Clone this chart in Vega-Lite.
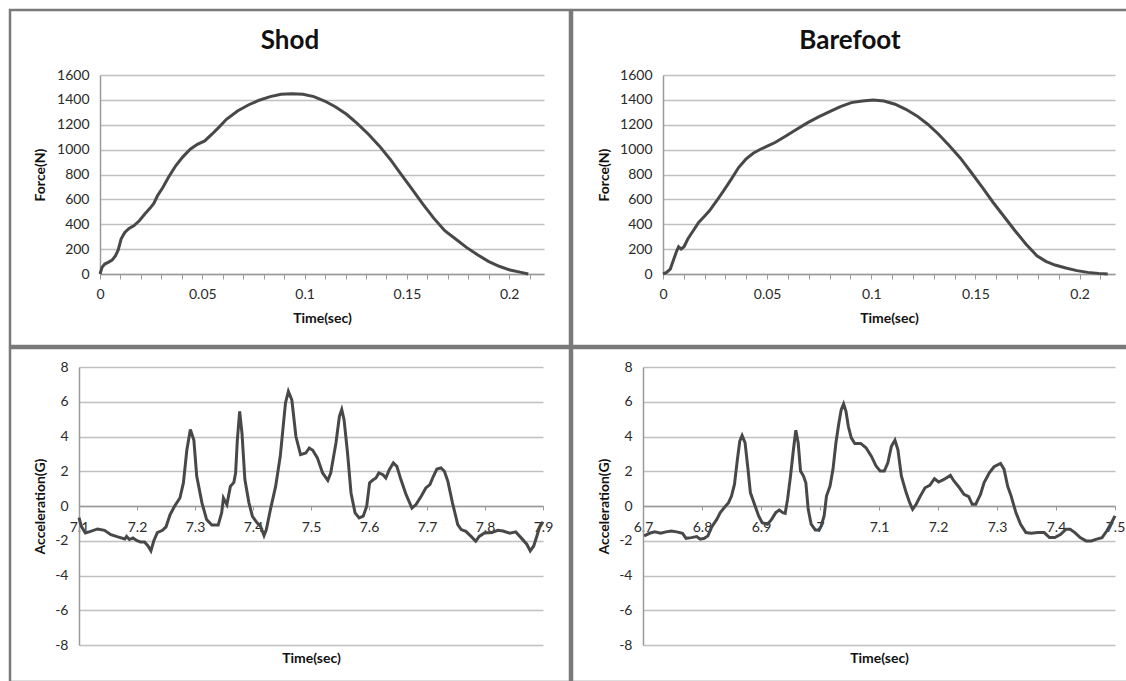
{
  "$schema": "https://vega.github.io/schema/vega-lite/v6.json",
  "background": "white",
  "padding": {"left": 8, "top": 8, "right": 0, "bottom": 0},
  "spacing": -5,
  "config": {
    "font": "Lato",
    "axis": {"labelFont": "Lato", "titleFont": "Lato", "labelColor": "#2a2a2a", "titleColor": "#111111", "labelFontSize": 14, "titleFontSize": 14, "titleFontWeight": "bold", "domainColor": "#9a9a9a", "domainWidth": 1.5, "tickColor": "#9a9a9a", "gridColor": "#c0c0c0", "gridWidth": 1.5},
    "title": {"font": "Lato", "fontSize": 26, "fontWeight": "bold", "color": "#111111"}
  },
  "datasets": {
    "shod_force": [
      {"time": 0, "force": 0}, {"time": 0.001, "force": 53}, {"time": 0.0023, "force": 80}, {"time": 0.004, "force": 94},
      {"time": 0.0059, "force": 112}, {"time": 0.0076, "force": 147}, {"time": 0.0089, "force": 193}, {"time": 0.0103, "force": 281},
      {"time": 0.0121, "force": 334}, {"time": 0.0142, "force": 367}, {"time": 0.0165, "force": 388}, {"time": 0.0192, "force": 428},
      {"time": 0.0219, "force": 482}, {"time": 0.0245, "force": 530}, {"time": 0.0263, "force": 567}, {"time": 0.0281, "force": 629},
      {"time": 0.0307, "force": 696}, {"time": 0.0334, "force": 776}, {"time": 0.037, "force": 870}, {"time": 0.0405, "force": 942},
      {"time": 0.0441, "force": 1003}, {"time": 0.0476, "force": 1043}, {"time": 0.0512, "force": 1070}, {"time": 0.0547, "force": 1124},
      {"time": 0.0583, "force": 1183}, {"time": 0.0618, "force": 1244}, {"time": 0.0672, "force": 1311}, {"time": 0.0725, "force": 1359},
      {"time": 0.0778, "force": 1397}, {"time": 0.0832, "force": 1426}, {"time": 0.0885, "force": 1445}, {"time": 0.0938, "force": 1450},
      {"time": 0.0992, "force": 1445}, {"time": 0.1045, "force": 1426}, {"time": 0.1098, "force": 1391}, {"time": 0.1152, "force": 1343},
      {"time": 0.1205, "force": 1284}, {"time": 0.1258, "force": 1209}, {"time": 0.1312, "force": 1124}, {"time": 0.1365, "force": 1030},
      {"time": 0.1418, "force": 923}, {"time": 0.1471, "force": 803}, {"time": 0.1525, "force": 682}, {"time": 0.1578, "force": 562},
      {"time": 0.1631, "force": 449}, {"time": 0.1685, "force": 348}, {"time": 0.1738, "force": 281}, {"time": 0.1791, "force": 214},
      {"time": 0.1845, "force": 155}, {"time": 0.1898, "force": 102}, {"time": 0.1951, "force": 62}, {"time": 0.2004, "force": 32},
      {"time": 0.2058, "force": 13}, {"time": 0.2093, "force": 0}
    ],
    "bare_force": [
      {"time": 0, "force": 0}, {"time": 0.0017, "force": 13}, {"time": 0.0035, "force": 40}, {"time": 0.0052, "force": 120},
      {"time": 0.0066, "force": 187}, {"time": 0.0075, "force": 219}, {"time": 0.0087, "force": 201}, {"time": 0.0101, "force": 219},
      {"time": 0.0119, "force": 281}, {"time": 0.0145, "force": 348}, {"time": 0.0171, "force": 415}, {"time": 0.0197, "force": 460},
      {"time": 0.0223, "force": 508}, {"time": 0.0258, "force": 589}, {"time": 0.0293, "force": 674}, {"time": 0.0328, "force": 763},
      {"time": 0.0363, "force": 856}, {"time": 0.0398, "force": 923}, {"time": 0.0433, "force": 971}, {"time": 0.0468, "force": 1003},
      {"time": 0.0503, "force": 1030}, {"time": 0.0538, "force": 1057}, {"time": 0.059, "force": 1110}, {"time": 0.0642, "force": 1164},
      {"time": 0.0695, "force": 1217}, {"time": 0.0747, "force": 1263}, {"time": 0.08, "force": 1306}, {"time": 0.0852, "force": 1346},
      {"time": 0.0904, "force": 1378}, {"time": 0.0957, "force": 1391}, {"time": 0.1009, "force": 1399}, {"time": 0.1061, "force": 1391},
      {"time": 0.1114, "force": 1365}, {"time": 0.1166, "force": 1324}, {"time": 0.1219, "force": 1271}, {"time": 0.1271, "force": 1204},
      {"time": 0.1323, "force": 1124}, {"time": 0.1376, "force": 1030}, {"time": 0.1428, "force": 931}, {"time": 0.148, "force": 816},
      {"time": 0.1533, "force": 696}, {"time": 0.1585, "force": 575}, {"time": 0.1638, "force": 460}, {"time": 0.169, "force": 348},
      {"time": 0.1742, "force": 241}, {"time": 0.1795, "force": 147}, {"time": 0.1838, "force": 102}, {"time": 0.1882, "force": 72},
      {"time": 0.1934, "force": 48}, {"time": 0.1987, "force": 27}, {"time": 0.2039, "force": 13}, {"time": 0.2091, "force": 5},
      {"time": 0.2135, "force": 0}
    ],
    "shod_acc": [
      {"time": 7.1, "accel": -0.67}, {"time": 7.104, "accel": -1.17}, {"time": 7.111, "accel": -1.55}, {"time": 7.12, "accel": -1.46},
      {"time": 7.132, "accel": -1.32}, {"time": 7.144, "accel": -1.4}, {"time": 7.155, "accel": -1.65}, {"time": 7.167, "accel": -1.78},
      {"time": 7.179, "accel": -1.9}, {"time": 7.182, "accel": -1.75}, {"time": 7.187, "accel": -1.93}, {"time": 7.193, "accel": -1.84},
      {"time": 7.2, "accel": -2.0}, {"time": 7.206, "accel": -2.07}, {"time": 7.213, "accel": -2.07}, {"time": 7.219, "accel": -2.3},
      {"time": 7.224, "accel": -2.58}, {"time": 7.229, "accel": -2.0}, {"time": 7.235, "accel": -1.53}, {"time": 7.244, "accel": -1.4},
      {"time": 7.25, "accel": -1.2}, {"time": 7.257, "accel": -0.5}, {"time": 7.265, "accel": 0.0}, {"time": 7.274, "accel": 0.46},
      {"time": 7.28, "accel": 1.33}, {"time": 7.286, "accel": 3.24}, {"time": 7.292, "accel": 4.4}, {"time": 7.298, "accel": 3.8},
      {"time": 7.303, "accel": 1.71}, {"time": 7.312, "accel": 0.18}, {"time": 7.32, "accel": -0.78}, {"time": 7.329, "accel": -1.1},
      {"time": 7.34, "accel": -1.1}, {"time": 7.346, "accel": -0.39}, {"time": 7.349, "accel": 0.46}, {"time": 7.355, "accel": 0.08},
      {"time": 7.361, "accel": 1.13}, {"time": 7.367, "accel": 1.36}, {"time": 7.37, "accel": 1.9}, {"time": 7.373, "accel": 3.8},
      {"time": 7.377, "accel": 5.45}, {"time": 7.381, "accel": 4.2}, {"time": 7.386, "accel": 1.52}, {"time": 7.393, "accel": 0.18},
      {"time": 7.399, "accel": -0.59}, {"time": 7.407, "accel": -0.97}, {"time": 7.413, "accel": -1.17}, {"time": 7.419, "accel": -1.7},
      {"time": 7.423, "accel": -1.36}, {"time": 7.43, "accel": -0.21}, {"time": 7.439, "accel": 1.13}, {"time": 7.447, "accel": 2.86},
      {"time": 7.456, "accel": 5.93}, {"time": 7.461, "accel": 6.6}, {"time": 7.467, "accel": 6.1}, {"time": 7.474, "accel": 4.0},
      {"time": 7.482, "accel": 2.96}, {"time": 7.491, "accel": 3.05}, {"time": 7.497, "accel": 3.34}, {"time": 7.503, "accel": 3.21},
      {"time": 7.511, "accel": 2.77}, {"time": 7.52, "accel": 1.9}, {"time": 7.529, "accel": 1.48}, {"time": 7.534, "accel": 1.9},
      {"time": 7.543, "accel": 3.63}, {"time": 7.549, "accel": 5.16}, {"time": 7.553, "accel": 5.55}, {"time": 7.557, "accel": 4.97},
      {"time": 7.563, "accel": 3.05}, {"time": 7.569, "accel": 0.75}, {"time": 7.576, "accel": -0.4}, {"time": 7.583, "accel": -0.69},
      {"time": 7.59, "accel": -0.59}, {"time": 7.596, "accel": -0.02}, {"time": 7.601, "accel": 1.33}, {"time": 7.606, "accel": 1.48},
      {"time": 7.612, "accel": 1.61}, {"time": 7.617, "accel": 1.9}, {"time": 7.624, "accel": 1.8}, {"time": 7.629, "accel": 1.61},
      {"time": 7.635, "accel": 2.09}, {"time": 7.642, "accel": 2.48}, {"time": 7.648, "accel": 2.28}, {"time": 7.655, "accel": 1.52},
      {"time": 7.664, "accel": 0.65}, {"time": 7.674, "accel": -0.12}, {"time": 7.681, "accel": 0.08}, {"time": 7.69, "accel": 0.56},
      {"time": 7.698, "accel": 1.04}, {"time": 7.705, "accel": 1.23}, {"time": 7.711, "accel": 1.71}, {"time": 7.717, "accel": 2.13},
      {"time": 7.724, "accel": 2.19}, {"time": 7.73, "accel": 2.0}, {"time": 7.736, "accel": 1.42}, {"time": 7.744, "accel": 0.17},
      {"time": 7.753, "accel": -1.07}, {"time": 7.759, "accel": -1.36}, {"time": 7.767, "accel": -1.46}, {"time": 7.776, "accel": -1.75},
      {"time": 7.784, "accel": -2.03}, {"time": 7.79, "accel": -1.75}, {"time": 7.799, "accel": -1.55}, {"time": 7.812, "accel": -1.53},
      {"time": 7.822, "accel": -1.4}, {"time": 7.831, "accel": -1.44}, {"time": 7.843, "accel": -1.57}, {"time": 7.853, "accel": -1.49},
      {"time": 7.862, "accel": -1.82}, {"time": 7.872, "accel": -2.2}, {"time": 7.878, "accel": -2.58}, {"time": 7.884, "accel": -2.3},
      {"time": 7.894, "accel": -1.24}, {"time": 7.9, "accel": -0.9}
    ],
    "bare_acc": [
      {"time": 6.702, "accel": -1.72}, {"time": 6.711, "accel": -1.57}, {"time": 6.72, "accel": -1.49}, {"time": 6.73, "accel": -1.57},
      {"time": 6.739, "accel": -1.49}, {"time": 6.748, "accel": -1.44}, {"time": 6.757, "accel": -1.49}, {"time": 6.767, "accel": -1.57},
      {"time": 6.773, "accel": -1.86}, {"time": 6.782, "accel": -1.82}, {"time": 6.791, "accel": -1.76}, {"time": 6.797, "accel": -1.91},
      {"time": 6.804, "accel": -1.86}, {"time": 6.81, "accel": -1.72}, {"time": 6.816, "accel": -1.24}, {"time": 6.825, "accel": -0.77},
      {"time": 6.831, "accel": -0.38}, {"time": 6.839, "accel": -0.04}, {"time": 6.845, "accel": 0.19}, {"time": 6.85, "accel": 0.57},
      {"time": 6.855, "accel": 1.24}, {"time": 6.86, "accel": 2.68}, {"time": 6.864, "accel": 3.73}, {"time": 6.868, "accel": 4.06},
      {"time": 6.873, "accel": 3.64}, {"time": 6.878, "accel": 2.11}, {"time": 6.882, "accel": 0.77}, {"time": 6.89, "accel": 0.0},
      {"time": 6.896, "accel": -0.57}, {"time": 6.902, "accel": -0.96}, {"time": 6.911, "accel": -1.05}, {"time": 6.918, "accel": -0.77},
      {"time": 6.925, "accel": -0.38}, {"time": 6.931, "accel": -0.23}, {"time": 6.937, "accel": -0.38}, {"time": 6.941, "accel": -0.42},
      {"time": 6.945, "accel": 0.38}, {"time": 6.95, "accel": 1.72}, {"time": 6.955, "accel": 3.25}, {"time": 6.959, "accel": 4.36},
      {"time": 6.963, "accel": 3.64}, {"time": 6.967, "accel": 2.01}, {"time": 6.972, "accel": 1.72}, {"time": 6.976, "accel": 1.34},
      {"time": 6.98, "accel": -0.19}, {"time": 6.985, "accel": -1.05}, {"time": 6.992, "accel": -1.38}, {"time": 6.998, "accel": -1.38},
      {"time": 7.002, "accel": -1.15}, {"time": 7.007, "accel": -0.57}, {"time": 7.011, "accel": 0.57}, {"time": 7.017, "accel": 1.15},
      {"time": 7.022, "accel": 2.11}, {"time": 7.027, "accel": 3.64}, {"time": 7.032, "accel": 4.78}, {"time": 7.036, "accel": 5.55},
      {"time": 7.04, "accel": 5.88}, {"time": 7.044, "accel": 5.45}, {"time": 7.048, "accel": 4.59}, {"time": 7.053, "accel": 3.92},
      {"time": 7.059, "accel": 3.6}, {"time": 7.069, "accel": 3.6}, {"time": 7.078, "accel": 3.35}, {"time": 7.087, "accel": 2.87},
      {"time": 7.095, "accel": 2.3}, {"time": 7.102, "accel": 2.01}, {"time": 7.109, "accel": 2.01}, {"time": 7.115, "accel": 2.49},
      {"time": 7.121, "accel": 3.44}, {"time": 7.127, "accel": 3.79}, {"time": 7.132, "accel": 3.25}, {"time": 7.138, "accel": 1.72},
      {"time": 7.146, "accel": 0.77}, {"time": 7.152, "accel": 0.19}, {"time": 7.157, "accel": -0.19}, {"time": 7.163, "accel": 0.1},
      {"time": 7.17, "accel": 0.57}, {"time": 7.178, "accel": 1.05}, {"time": 7.186, "accel": 1.19}, {"time": 7.194, "accel": 1.57},
      {"time": 7.201, "accel": 1.38}, {"time": 7.21, "accel": 1.53}, {"time": 7.221, "accel": 1.76}, {"time": 7.227, "accel": 1.44},
      {"time": 7.235, "accel": 1.11}, {"time": 7.244, "accel": 0.67}, {"time": 7.252, "accel": 0.54}, {"time": 7.258, "accel": 0.1},
      {"time": 7.264, "accel": 0.1}, {"time": 7.272, "accel": 0.67}, {"time": 7.278, "accel": 1.34}, {"time": 7.287, "accel": 1.91},
      {"time": 7.295, "accel": 2.26}, {"time": 7.306, "accel": 2.45}, {"time": 7.312, "accel": 2.11}, {"time": 7.318, "accel": 1.15},
      {"time": 7.324, "accel": 0.57}, {"time": 7.332, "accel": -0.38}, {"time": 7.34, "accel": -1.05}, {"time": 7.349, "accel": -1.53},
      {"time": 7.358, "accel": -1.57}, {"time": 7.369, "accel": -1.53}, {"time": 7.38, "accel": -1.53}, {"time": 7.389, "accel": -1.82},
      {"time": 7.398, "accel": -1.82}, {"time": 7.408, "accel": -1.63}, {"time": 7.417, "accel": -1.34}, {"time": 7.424, "accel": -1.34},
      {"time": 7.432, "accel": -1.53}, {"time": 7.441, "accel": -1.82}, {"time": 7.451, "accel": -2.01}, {"time": 7.46, "accel": -2.01},
      {"time": 7.469, "accel": -1.91}, {"time": 7.478, "accel": -1.82}, {"time": 7.486, "accel": -1.44}, {"time": 7.494, "accel": -0.96},
      {"time": 7.5, "accel": -0.57}
    ]
  },
  "vconcat": [
    {
      "spacing": -4,
      "hconcat": [
        {
          "width": 560, "height": 336,
          "view": {"stroke": "#7a7a7a", "strokeWidth": 2.5, "fill": "white"},
          "title": {"text": "Shod", "offset": -44, "anchor": "middle"},
          "data": {"name": "shod_force"},
          "mark": {"type": "line", "color": "#484848", "strokeWidth": 3},
          "encoding": {
            "x": {"field": "time", "type": "quantitative",
              "scale": {"domain": [0, 0.217], "range": [90, 534], "nice": false, "zero": false},
              "axis": {"title": "Time(sec)", "offset": -72, "grid": false, "values": [0, 0.01, 0.02, 0.03, 0.04, 0.05, 0.06, 0.07, 0.08, 0.09, 0.1, 0.11, 0.12, 0.13, 0.14, 0.15, 0.16, 0.17, 0.18, 0.19, 0.2, 0.21],
                "labelExpr": "abs(datum.value*20 - round(datum.value*20)) < 0.001 ? toString(datum.value) : ''",
                "tickSize": 5, "labelPadding": 8, "labelFlush": false, "titleY": 44, "titleBaseline": "middle"}},
            "y": {"field": "force", "type": "quantitative",
              "scale": {"domain": [0, 1600], "range": [264, 65], "nice": false},
              "axis": {"title": "Force(N)", "offset": -90, "values": [0, 200, 400, 600, 800, 1000, 1200, 1400, 1600], "labelExpr": "toString(datum.value)", "ticks": false, "labelPadding": 11, "titleX": -60, "titleBaseline": "middle"}}
          }
        },
        {
          "width": 556, "height": 336,
          "view": {"stroke": "#7a7a7a", "strokeWidth": 2.5, "fill": "white"},
          "title": {"text": "Barefoot", "offset": -44, "anchor": "middle"},
          "data": {"name": "bare_force"},
          "mark": {"type": "line", "color": "#484848", "strokeWidth": 3},
          "encoding": {
            "x": {"field": "time", "type": "quantitative",
              "scale": {"domain": [0, 0.217], "range": [91, 543], "nice": false, "zero": false},
              "axis": {"title": "Time(sec)", "offset": -72, "grid": false, "values": [0, 0.01, 0.02, 0.03, 0.04, 0.05, 0.06, 0.07, 0.08, 0.09, 0.1, 0.11, 0.12, 0.13, 0.14, 0.15, 0.16, 0.17, 0.18, 0.19, 0.2, 0.21],
                "labelExpr": "abs(datum.value*20 - round(datum.value*20)) < 0.001 ? toString(datum.value) : ''",
                "tickSize": 5, "labelPadding": 8, "labelFlush": false, "titleY": 44, "titleBaseline": "middle"}},
            "y": {"field": "force", "type": "quantitative",
              "scale": {"domain": [0, 1600], "range": [264, 65], "nice": false},
              "axis": {"title": "Force(N)", "offset": -91, "values": [0, 200, 400, 600, 800, 1000, 1200, 1400, 1600], "labelExpr": "toString(datum.value)", "ticks": false, "labelPadding": 11, "titleX": -59, "titleBaseline": "middle"}}
          }
        }
      ]
    },
    {
      "spacing": -4,
      "hconcat": [
        {
          "width": 560, "height": 334,
          "view": {"stroke": "#7a7a7a", "strokeWidth": 2.5, "fill": "white"},
          "data": {"name": "shod_acc"},
          "mark": {"type": "line", "color": "#484848", "strokeWidth": 3},
          "encoding": {
            "x": {"field": "time", "type": "quantitative",
              "scale": {"domain": [7.1, 7.9], "range": [69, 533], "nice": false, "zero": false},
              "axis": {"title": "Time(sec)", "offset": -176, "grid": false, "values": [7.1, 7.2, 7.3, 7.4, 7.5, 7.6, 7.7, 7.8, 7.9], "labelExpr": "toString(datum.value)",
                "tickSize": 4, "labelPadding": 10, "labelFlush": false, "titleY": 152, "titleBaseline": "middle"}},
            "y": {"field": "accel", "type": "quantitative",
              "scale": {"domain": [-8, 8], "range": [297, 19], "nice": false, "zero": false},
              "axis": {"title": "Acceleration(G)", "offset": -69, "values": [-8, -6, -4, -2, 0, 2, 4, 6, 8], "labelExpr": "toString(datum.value)", "ticks": false, "labelPadding": 11, "titleX": -39, "titleBaseline": "middle"}}
          }
        },
        {
          "width": 556, "height": 334,
          "view": {"stroke": "#7a7a7a", "strokeWidth": 2.5, "fill": "white"},
          "data": {"name": "bare_acc"},
          "mark": {"type": "line", "color": "#484848", "strokeWidth": 3},
          "encoding": {
            "x": {"field": "time", "type": "quantitative",
              "scale": {"domain": [6.7, 7.5], "range": [71, 543], "nice": false, "zero": false},
              "axis": {"title": "Time(sec)", "offset": -176, "grid": false, "values": [6.7, 6.8, 6.9, 7, 7.1, 7.2, 7.3, 7.4, 7.5], "labelExpr": "toString(datum.value)",
                "tickSize": 4, "labelPadding": 10, "labelFlush": false, "titleY": 152, "titleBaseline": "middle"}},
            "y": {"field": "accel", "type": "quantitative",
              "scale": {"domain": [-8, 8], "range": [297, 19], "nice": false, "zero": false},
              "axis": {"title": "Acceleration(G)", "offset": -71, "values": [-8, -6, -4, -2, 0, 2, 4, 6, 8], "labelExpr": "toString(datum.value)", "ticks": false, "labelPadding": 11, "titleX": -39, "titleBaseline": "middle"}}
          }
        }
      ]
    }
  ]
}
